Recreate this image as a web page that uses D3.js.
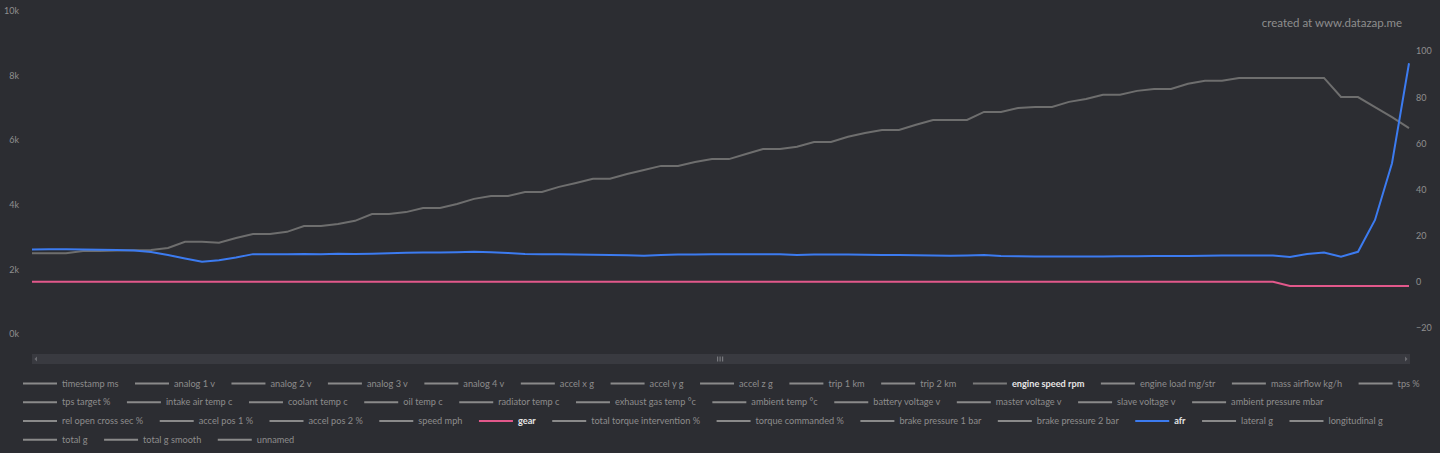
<!DOCTYPE html>
<html>
<head>
<meta charset="utf-8">
<script src="https://cdn.jsdelivr.net/npm/d3@7"></script>
<style>
  body { margin: 0; background: #2c2d32; }
  svg { display: block; font-family: Lato, sans-serif; }
</style>
</head>
<body>
<svg width="1440" height="453"></svg>
<script>
// values (one sample per step)
const engineSpeedRpm = [2500, 2500, 2500, 2570, 2570, 2580, 2590, 2600, 2660, 2850,
  2850, 2820, 2970, 3090, 3090, 3160, 3340, 3340, 3400, 3500,
  3710, 3710, 3770, 3900, 3900, 4020, 4180, 4270, 4270, 4390,
  4390, 4550, 4670, 4800, 4800, 4950, 5070, 5200, 5200, 5320,
  5410, 5410, 5570, 5720, 5720, 5790, 5940, 5940, 6100, 6220,
  6310, 6310, 6470, 6620, 6620, 6620, 6870, 6870, 6990, 7020,
  7020, 7180, 7270, 7400, 7400, 7520, 7580, 7580, 7740, 7830,
  7830, 7920, 7920, 7920, 7920, 7920, 7920, 7330, 7330, 7020,
  6710, 6370];

const afr = [14.0, 14.1, 14.1, 14.0, 13.9, 13.8, 13.6, 12.9, 11.6, 10.1,
  8.7, 9.4, 10.5, 12.0, 12.0, 12.0, 12.1, 12.0, 12.2, 12.1,
  12.2, 12.4, 12.6, 12.7, 12.7, 12.8, 13.0, 12.8, 12.5, 12.1,
  12.0, 11.9, 11.8, 11.7, 11.6, 11.5, 11.3, 11.6, 11.8, 11.8,
  11.9, 11.9, 11.9, 12.0, 12.0, 11.6, 11.8, 11.8, 11.8, 11.7,
  11.6, 11.6, 11.5, 11.4, 11.3, 11.4, 11.6, 11.2, 11.1, 11.0,
  11.0, 11.0, 11.0, 11.0, 11.1, 11.1, 11.2, 11.2, 11.2, 11.3,
  11.4, 11.4, 11.4, 11.4, 10.8, 12.1, 12.7, 10.9, 13.0, 26.8,
  51.4, 94.7];

const gear = [0, 0, 0, 0, 0, 0, 0, 0, 0, 0, 0, 0, 0, 0, 0, 0, 0, 0, 0, 0,
  0, 0, 0, 0, 0, 0, 0, 0, 0, 0, 0, 0, 0, 0, 0, 0, 0, 0, 0, 0,
  0, 0, 0, 0, 0, 0, 0, 0, 0, 0, 0, 0, 0, 0, 0, 0, 0, 0, 0, 0,
  0, 0, 0, 0, 0, 0, 0, 0, 0, 0, 0, 0, 0, 0, -1.8, -1.8, -1.8, -1.8, -1.8, -1.8,
  -1.8, -1.8];

const leftTicks = [0, 2000, 4000, 6000, 8000, 10000];
const rightTicks = [-20, 0, 20, 40, 60, 80, 100];

const legendNames = ["timestamp ms", "analog 1 v", "analog 2 v", "analog 3 v", "analog 4 v",
  "accel x g", "accel y g", "accel z g", "trip 1 km", "trip 2 km", "engine speed rpm",
  "engine load mg/str", "mass airflow kg/h", "tps %", "tps target %", "intake air temp c",
  "coolant temp c", "oil temp c", "radiator temp c", "exhaust gas temp °c", "ambient temp °c",
  "battery voltage v", "master voltage v", "slave voltage v", "ambient pressure mbar",
  "rel open cross sec %", "accel pos 1 %", "accel pos 2 %", "speed mph", "gear",
  "total torque intervention %", "torque commanded %", "brake pressure 1 bar",
  "brake pressure 2 bar", "afr", "lateral g", "longitudinal g", "total g",
  "total g smooth", "unnamed"];

// series that are switched on, with their colours
const activeColors = { "engine speed rpm": "#6e6e6e", "gear": "#e2588b", "afr": "#3c7bf0" };

var svg = d3.select("svg");

var x = d3.scaleLinear().domain([0, engineSpeedRpm.length - 1]).range([32, 1409]);
var yLeft = d3.scaleLinear().domain([0, 10000]).range([334, 10.7]);
var yRight = d3.scaleLinear().domain([-20, 100]).range([328, 51]);

// axes, labels only
var leftAxis = svg.append("g")
  .attr("transform", "translate(22,0)")
  .call(d3.axisLeft(yLeft).tickValues(leftTicks).tickSize(0).tickPadding(3)
    .tickFormat(function (d) { return (d / 1000) + "k"; }));

var rightAxis = svg.append("g")
  .attr("transform", "translate(1413,0)")
  .call(d3.axisRight(yRight).tickValues(rightTicks).tickSize(0).tickPadding(3)
    .tickFormat(function (d) { return d < 0 ? "\u2212" + (-d) : d; }));

svg.selectAll(".domain").remove();
svg.selectAll(".tick text")
  .attr("fill", "#8f8f8f")
  .style("font-family", "Lato, sans-serif")
  .style("font-size", "9px");

// watermark
svg.append("text")
  .attr("x", 1402)
  .attr("y", 27)
  .attr("text-anchor", "end")
  .attr("fill", "#8e8e8e")
  .style("font-size", "11.5px")
  .text("created at www.datazap.me");

// series lines
var lineLeft = d3.line()
  .x(function (d, i) { return x(i); })
  .y(function (d) { return yLeft(d); });

var lineRight = d3.line()
  .x(function (d, i) { return x(i); })
  .y(function (d) { return yRight(d); });

svg.append("path")
  .datum(engineSpeedRpm)
  .attr("d", lineLeft)
  .attr("fill", "none")
  .attr("stroke", activeColors["engine speed rpm"])
  .attr("stroke-width", 2);

svg.append("path")
  .datum(gear)
  .attr("d", lineRight)
  .attr("fill", "none")
  .attr("stroke", activeColors["gear"])
  .attr("stroke-width", 2);

svg.append("path")
  .datum(afr)
  .attr("d", lineRight)
  .attr("fill", "none")
  .attr("stroke", activeColors["afr"])
  .attr("stroke-width", 2);

// data zoom slider
var slider = svg.append("g");
slider.append("rect")
  .attr("x", 32).attr("y", 354)
  .attr("width", 1378).attr("height", 10)
  .attr("fill", "#393a40");
slider.append("path")
  .attr("d", "M37,356.5 L34.5,359 L37,361.5 Z")
  .attr("fill", "#6a6b70");
slider.append("path")
  .attr("d", "M1405,356.5 L1407.5,359 L1405,361.5 Z")
  .attr("fill", "#6a6b70");
[717, 719.5, 722].forEach(function (gx) {
  slider.append("rect")
    .attr("x", gx).attr("y", 356.5)
    .attr("width", 1.2).attr("height", 5)
    .attr("fill", "#77787d");
});

// legend, flowed into rows like the original
var legend = svg.append("g").style("font-size", "9.2px");
var lx = 23, row = 0;
var rowY = [383.5, 402.2, 421, 439.7];
legendNames.forEach(function (name) {
  var on = activeColors[name] !== undefined;
  var item = legend.append("g");
  var t = item.append("text")
    .attr("x", 39)
    .attr("dy", "0.35em")
    .attr("fill", on ? "#e6e6e6" : "#8c8c8c")
    .style("font-weight", on ? "bold" : "normal")
    .text(name);
  var w = 39 + t.node().getComputedTextLength();
  if (lx + w > 1432) {
    row += 1;
    lx = 23;
  }
  item.attr("transform", "translate(" + lx + "," + rowY[row] + ")");
  item.append("line")
    .attr("x1", 0).attr("x2", 34)
    .attr("stroke", on ? activeColors[name] : "#8a8a8a")
    .attr("stroke-width", 2);
  if (name === "engine speed rpm") item.select("line").attr("stroke", "#7a7a7a");
  lx += w + 16.5;
});
</script>
</body>
</html>
